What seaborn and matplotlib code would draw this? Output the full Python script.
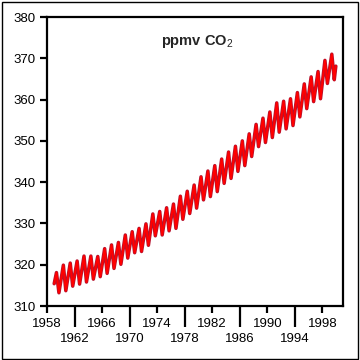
import numpy as np
import pandas as pd
import matplotlib
matplotlib.use("Agg")
import matplotlib.pyplot as plt
from matplotlib.patches import Rectangle
import seaborn as sns

# ==============================
# DATA  (Mauna Loa CO2, seasonal highs / lows)
# ==============================

years = list(range(1959, 2000))

# spring maximum of each year (ppmv)
peaks = [318.1, 319.9, 320.4, 320.9, 322.1, 322.1, 322.0, 323.9, 324.8, 325.4,
         327.2, 328.0, 328.8, 329.9, 332.3, 332.9, 333.8, 334.7, 336.6, 337.8,
         339.3, 341.3, 342.7, 344.0, 345.6, 347.3, 348.7, 350.0, 351.7, 354.0,
         355.5, 357.0, 359.2, 359.6, 360.2, 361.7, 363.8, 365.5, 366.8, 369.5,
         371.0]

# autumn minimum of each year (ppmv)
troughs = [313.2, 313.7, 314.8, 315.3, 315.8, 316.5, 317.1, 317.9, 319.1, 320.1,
           321.6, 322.9, 323.2, 324.7, 327.0, 327.2, 328.2, 328.8, 331.0, 332.4,
           333.7, 335.7, 336.5, 337.7, 339.7, 340.9, 342.6, 344.0, 346.2, 348.6,
           349.6, 350.8, 352.1, 352.9, 353.7, 355.8, 357.8, 359.5, 360.2, 363.9,
           364.8]

first_value = 315.4   # January 1959
last_value = 368.1    # December 1999

upper_years = [1958, 1966, 1974, 1982, 1990, 1998]
lower_years = [1962, 1970, 1978, 1986, 1994]
y_ticks = [310, 320, 330, 340, 350, 360, 370, 380]

# ==============================
# BUILD SERIES
# ==============================

t = [1959 + 0.5 / 12]
v = [first_value]
for yr, hi, lo in zip(years, peaks, troughs):
    t += [yr + 4.5 / 12, yr + 8.8 / 12]
    v += [hi, lo]
t.append(1999 + 11.5 / 12)
v.append(last_value)

df = pd.DataFrame({"year": t, "co2": v})

# ==============================
# PLOT
# ==============================

sns.set_style("white")
plt.rcParams["font.family"] = ["Liberation Sans", "DejaVu Sans"]
plt.rcParams["mathtext.fontset"] = "custom"
plt.rcParams["mathtext.rm"] = "Liberation Sans"
plt.rcParams["mathtext.bf"] = "Liberation Sans:bold"

fig = plt.figure(figsize=(3.6, 3.6), dpi=100)
ax = fig.add_axes([47 / 360, 54 / 360, 296 / 360, 289 / 360])

sns.lineplot(data=df, x="year", y="co2", color="#b3122e", lw=2.5, sort=False, ax=ax)
sns.lineplot(data=df, x="year", y="co2", color="#ff0000", lw=1.4, sort=False, ax=ax)

ax.set_xlim(1958, 2001)
ax.set_ylim(310, 380)

ax.set_xticks(lower_years, [str(y) for y in lower_years])
ax.set_xticks(upper_years, [str(y) for y in upper_years], minor=True)
ax.set_yticks(y_ticks, [str(y) for y in y_ticks])

ax.tick_params(which="both", bottom=True, left=True, direction="out",
               color="black", width=1.6, labelsize=9.5, labelcolor="black")
ax.tick_params(axis="x", which="major", length=15, pad=4.5)
ax.tick_params(axis="x", which="minor", length=5, pad=3.5)
ax.tick_params(axis="y", length=5, pad=3)

for s in ax.spines.values():
    s.set_color("black")
    s.set_linewidth(1.6)

ax.set_xlabel("")
ax.set_ylabel("")

ax.text(0.507, 0.915, r"ppmv CO$_{\mathrm{2}}$", transform=ax.transAxes,
        ha="center", va="center", fontsize=10.5, fontweight="bold")

# outer frame round the whole picture
fig.patches.append(Rectangle((1.5 / 360, 1.5 / 360), 356.5 / 360, 356.5 / 360,
                             transform=fig.transFigure, fill=False,
                             ec="black", lw=1.0))

fig.savefig("out.png", dpi=100, facecolor="white")
